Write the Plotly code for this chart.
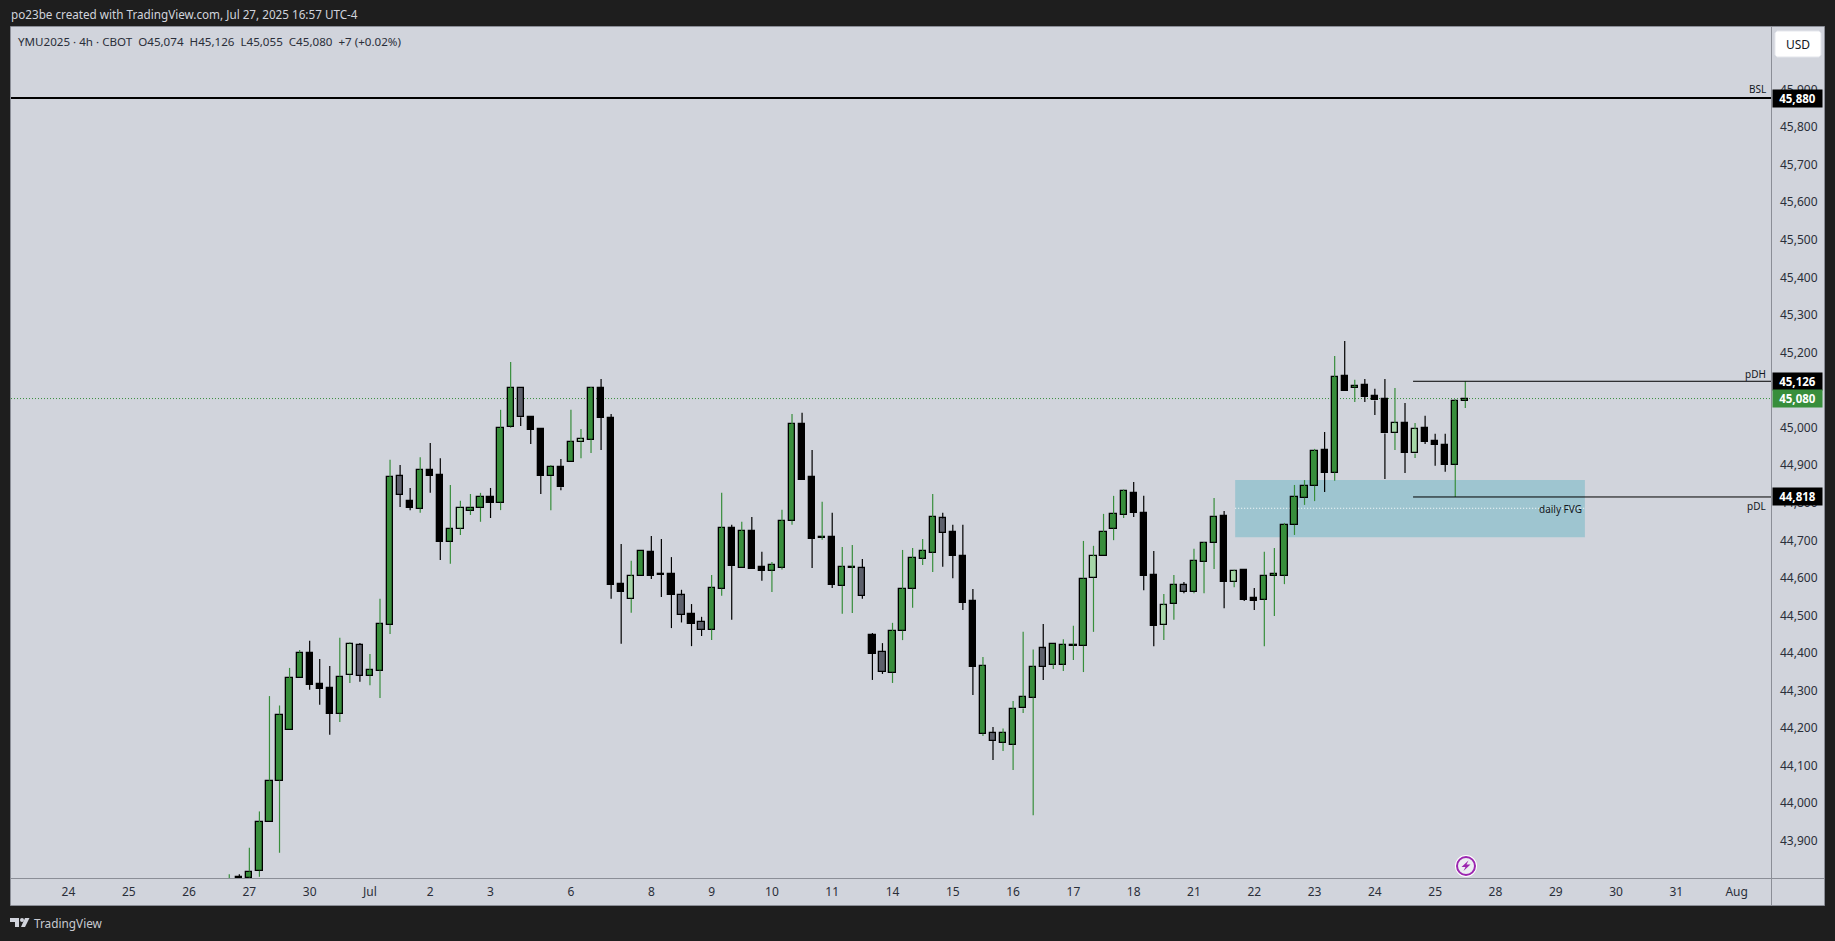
import plotly.graph_objects as go

W, H = 1835, 941
ML, MR, MT, MB = 11, 64, 27, 63

colors = list("GBGGGGGGBBBGLDGGGDBGBBGLGGBGGDBBGBGLGBBBLGBBBDBDGGBGBBGGGBBGBGGDBDGGGGGDBBBGDGGGGDGGGGLGGGBBBLGDGGGBLBBGGGGGGBGBGBBBLBLBBBGG")
opens = [43760,43806,43805,43823,43952,44063,44199,44335,44404,44320,44309,44241,44345,44425,44342,44356,44478,44873,44807,44787,44889,44876,44699,44734,44782,44789,44817,44803,45005,45107,45030,44998,44874,44899,44912,44965,44971,45107,45029,44587,44547,44609,44671,44612,44612,44556,44506,44485,44465,44574,44735,44630,44727,44631,44622,44630,44755,45011,44870,44710,44711,44582,44630,44628,44450,44405,44350,44462,44574,44654,44670,44761,44724,44660,44540,44367,44169,44189,44159,44255,44284,44366,44428,44372,44422,44422,44603,44662,44734,44771,44829,44775,44610,44478,44534,44583,44566,44646,44696,44767,44593,44624,44549,44545,44608,44609,44744,44816,44848,44942,44883,45139,45109,45115,45086,45078,44989,45014,44934,45001,44966,44956,44904,45074]
highs = [43814,43814,43884,43981,44288,44263,44363,44411,44435,44387,44368,44443,44431,44429,44400,44547,44917,44903,44842,44924,44962,44921,44850,44808,44826,44829,44842,45050,45177,45107,45033,44998,44903,44919,45050,44999,45111,45132,45039,44693,44648,44673,44714,44706,44658,44571,44533,44499,44610,44829,44744,44752,44765,44672,44645,44784,45039,45042,44943,44805,44776,44685,44690,44653,44456,44429,44483,44677,44682,44706,44826,44776,44744,44744,44573,44392,44206,44202,44275,44459,44412,44480,44428,44439,44475,44701,44688,44773,44821,44838,44858,44821,44674,44560,44610,44592,44680,44698,44815,44781,44624,44626,44576,44672,44682,44749,44850,44863,44946,44991,45193,45233,45130,45132,45106,45132,45108,45068,45015,45034,44986,44986,45078,45126]
lows = [43750,43770,43790,43807,43952,43871,44199,44335,44305,44265,44185,44219,44323,44326,44317,44283,44453,44791,44783,44776,44829,44650,44640,44717,44770,44752,44762,44783,45002,45007,44959,44826,44783,44836,44912,44921,44935,44943,44547,44427,44510,44609,44600,44552,44469,44484,44421,44448,44437,44555,44491,44630,44625,44595,44565,44625,44744,44864,44629,44704,44576,44507,44509,44547,44331,44347,44323,44437,44523,44637,44618,44632,44602,44517,44291,44182,44118,44142,44091,44243,43971,44331,44360,44355,44384,44352,44459,44662,44703,44762,44765,44570,44421,44437,44491,44562,44562,44562,44626,44522,44578,44541,44517,44421,44501,44586,44717,44797,44807,44831,44861,45101,45071,45071,45036,44866,44943,44882,44922,44959,44901,44885,44818,45055]
closes = [43790,43780,43821,43952,44063,44239,44336,44404,44318,44307,44241,44340,44428,44342,44357,44479,44870,44824,44789,44889,44874,44698,44732,44790,44790,44817,44802,45001,45107,45030,44997,44874,44899,44844,44964,44972,45107,45029,44585,44565,44607,44673,44609,44611,44558,44505,44481,44465,44575,44735,44635,44727,44625,44622,44636,44753,45011,44864,44707,44711,44585,44631,44631,44555,44401,44353,44460,44572,44655,44673,44764,44723,44662,44537,44366,44188,44189,44164,44253,44285,44365,44415,44372,44423,44423,44601,44660,44724,44772,44833,44776,44608,44475,44530,44583,44566,44647,44695,44766,44592,44620,44544,44541,44609,44613,44743,44817,44846,44940,44883,45137,45101,45114,45085,45075,44987,45014,44936,44998,44965,44957,44904,45073,45080]

price_ticks = list(range(43900, 46000, 100))
date_pos = [-16,-10,-4,2,8,14,20,26,34,42,48,54,60,66,72,78,84,90,96,102,108,114,120,126,132,138,144,150]
date_labels = ["24","25","26","27","30","Jul","2","3","6","8","9","10","11","14","15","16","17","18","21","22","23","24","25","28","29","30","31","Aug"]

BSL, PDH, PDL, LAST = 45880, 45126, 44818, 45080
FVG_TOP, FVG_MID, FVG_BOT = 44863, 44788, 44711
FVG_START, FVG_END = 100.1, 134.9
LEVEL_START = 117.8
X_RANGE = [-21.72, 153.42]
Y_RANGE = [43803.8, 46069]

GREEN, LIGHT, GRAY, BLACK = "#388e3c", "#a5d6a7", "#5d606b", "#000000"
BG, DARK, FRAME, INK = "#d1d4dc", "#1e1e1e", "#8b8e97", "#131722"
FONT = "Noto Sans"
FILL = {"G": GREEN, "L": LIGHT, "D": GRAY, "B": BLACK}

pw, ph = W - ML - MR, H - MT - MB
def px(x): return (x - ML) / pw
def py(y): return 1 - (y - MT) / ph
def poly(pts): return "M" + " L".join(f"{px(x):.5f},{py(y):.5f}" for x, y in pts) + " Z"

xs = list(range(len(opens)))
tops = [max(o, c) for o, c in zip(opens, closes)]
bots = [min(o, c) for o, c in zip(opens, closes)]

def wicks(codes):
    wx, wy = [], []
    for i in xs:
        if colors[i] in codes:
            wx += [i, i, None, i, i, None]
            wy += [highs[i], tops[i], None, bots[i], lows[i], None]
    return wx, wy

fig = go.Figure()
fig.add_bar(x=xs, y=[t - b for t, b in zip(tops, bots)], base=bots, width=0.62,
            marker=dict(color=[FILL[c] for c in colors], line=dict(color=BLACK, width=1.3)),
            hoverinfo="skip", showlegend=False)
for codes, col in (("GL", GREEN), ("BD", BLACK)):
    wx, wy = wicks(codes)
    fig.add_scatter(x=wx, y=wy, mode="lines", line=dict(color=col, width=1.2),
                    hoverinfo="skip", showlegend=False)

shapes = [
    # chart card, axis lines
    dict(type="rect", xref="paper", yref="paper", x0=px(10.5), x1=px(1824.5), y0=py(905.5), y1=py(26.5),
         fillcolor=BG, line=dict(color=FRAME, width=1), layer="below"),
    dict(type="line", xref="paper", yref="paper", x0=px(1771.5), x1=px(1771.5), y0=py(905.5), y1=py(27),
         line=dict(color=FRAME, width=1), layer="above"),
    dict(type="line", xref="paper", yref="paper", x0=px(11), x1=px(1824), y0=py(878.5), y1=py(878.5),
         line=dict(color=FRAME, width=1), layer="above"),
    # FVG
    dict(type="rect", x0=FVG_START, x1=FVG_END, y0=FVG_BOT, y1=FVG_TOP, fillcolor="#9ec5d0",
         line=dict(width=0), layer="below"),
    dict(type="line", x0=FVG_START, x1=FVG_END, y0=FVG_MID, y1=FVG_MID,
         line=dict(color="#ffffff", width=1, dash="1px,2px"), layer="below"),
    # levels
    dict(type="line", x0=X_RANGE[0], x1=X_RANGE[1], y0=BSL, y1=BSL, line=dict(color=BLACK, width=2)),
    dict(type="line", x0=LEVEL_START, x1=X_RANGE[1], y0=PDH, y1=PDH, line=dict(color=BLACK, width=1)),
    dict(type="line", x0=LEVEL_START, x1=X_RANGE[1], y0=PDL, y1=PDL, line=dict(color=BLACK, width=1)),
    dict(type="line", x0=X_RANGE[0], x1=X_RANGE[1], y0=LAST, y1=LAST,
         line=dict(color=GREEN, width=1, dash="1px,2px"), layer="below"),
    # USD button
    dict(type="path", xref="paper", yref="paper", fillcolor="#ffffff", line=dict(color="#e4e6ec", width=1),
         path=poly([(1777, 31), (1819, 31), (1821, 33), (1821, 55), (1819, 57), (1777, 57), (1775, 55), (1775, 33)])),
    # purple lightning badge
    dict(type="circle", xref="paper", yref="paper", x0=px(1455), x1=px(1477), y0=py(877), y1=py(855),
         fillcolor="#ffffff", line=dict(width=0)),
    dict(type="circle", xref="paper", yref="paper", x0=px(1457), x1=px(1475), y0=py(875), y1=py(857),
         fillcolor="#eceef2", line=dict(color="#9c27b0", width=2)),
    dict(type="path", xref="paper", yref="paper", fillcolor="#9c27b0", line=dict(width=0),
         path=poly([(1468.5, 860.5), (1461.5, 867), (1465.5, 867), (1463.5, 871), (1470.5, 864.5), (1466.5, 864.5)])),
    # TradingView logo
    dict(type="path", xref="paper", yref="paper", fillcolor="#d1d4dc", line=dict(width=0),
         path=poly([(10, 918), (19, 918), (19, 927), (15, 927), (15, 922), (10, 922)])),
    dict(type="circle", xref="paper", yref="paper", x0=px(20), x1=px(24), y0=py(922), y1=py(918),
         fillcolor="#d1d4dc", line=dict(width=0)),
    dict(type="path", xref="paper", yref="paper", fillcolor="#d1d4dc", line=dict(width=0),
         path=poly([(25, 918), (29.5, 918), (25, 927), (21, 927)])),
]

def tag(value, fill):
    return dict(x=1, xref="paper", y=value, yref="y", xanchor="left", yanchor="middle", xshift=1,
                text=f"<b>{value:,}</b>", showarrow=False, bgcolor=fill, width=47, height=15,
                font=dict(family=FONT, size=11.5, color="#ffffff"), borderpad=1, align="center")

def note(x, y, text, size=10, color=INK, anchor="right", family=FONT):
    return dict(x=px(x), y=py(y), xref="paper", yref="paper", xanchor=anchor, yanchor="middle",
                text=text, showarrow=False, font=dict(family=family, size=size, color=color))

annotations = [
    note(9, 14, "po23be created with TradingView.com, Jul 27, 2025 16:57 UTC-4", 11.7, "#d1d4dc", "left"),
    note(16, 41, "YMU2025 · 4h · CBOT&nbsp;&nbsp;O45,074&nbsp;&nbsp;H45,126&nbsp;&nbsp;L45,055&nbsp;&nbsp;C45,080&nbsp;&nbsp;+7 (+0.02%)", 11.6, "#2a2e39", "left"),
    note(32, 923, "TradingView", 11.8, "#c8cad0", "left"),
    note(1798, 44, "USD", 12, INK, "center"),
    note(1768, 89, "BSL"),
    note(1768, 374, "pDH"),
    note(1768, 506, "pDL"),
    note(1584, 509, "daily FVG"),
    tag(BSL, BLACK), tag(PDH, BLACK), tag(PDL, BLACK), tag(LAST, GREEN),
]

fig.update_layout(
    width=W, height=H, margin=dict(l=ML, r=MR, t=MT, b=MB, pad=0), autosize=False,
    paper_bgcolor=DARK, plot_bgcolor="rgba(0,0,0,0)", showlegend=False, bargap=0,
    font=dict(family=FONT, size=12, color=INK), shapes=shapes, annotations=annotations,
    xaxis=dict(range=X_RANGE, tickmode="array", tickvals=date_pos, ticktext=date_labels, showgrid=False,
               zeroline=False, ticklen=0, ticks="", ticklabelstandoff=5, tickfont=dict(size=12, color="#2a2e39")),
    yaxis=dict(range=Y_RANGE, side="right", tickmode="array", tickvals=price_ticks,
               ticktext=[f"{p:,}" for p in price_ticks], showgrid=False, zeroline=False, ticklen=0, ticks="",
               ticklabelstandoff=8, ticklabelshift=-1, tickfont=dict(size=12, color="#2a2e39")),
)

fig.write_html("out.html", config=dict(displayModeBar=False),
               post_script="document.body.style.margin='0';document.documentElement.style.overflow='hidden';")
